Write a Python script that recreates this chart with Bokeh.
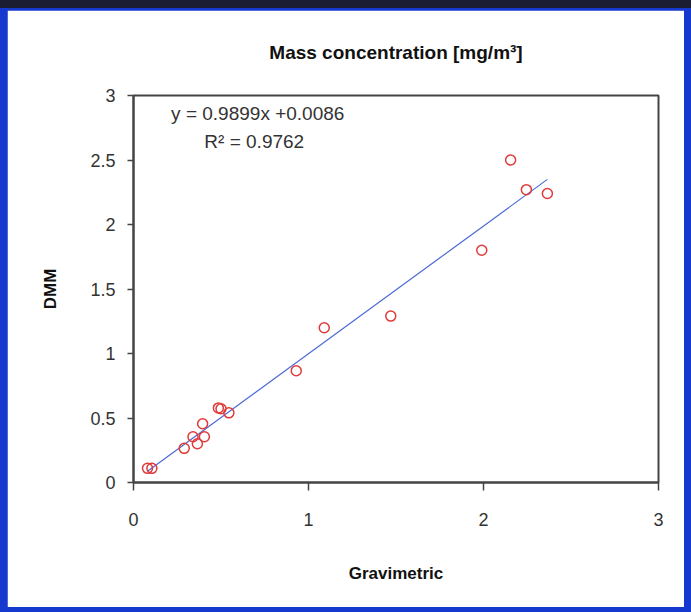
from bokeh.plotting import figure
from bokeh.models import Label, FixedTicker, CustomJSTickFormatter, ColumnDataSource
from bokeh.layouts import column
from bokeh.embed import file_html
from bokeh.resources import INLINE

# Data
gravimetric = [0.08, 0.105, 0.29, 0.34, 0.365, 0.395, 0.405, 0.485, 0.50, 0.545,
               0.93, 1.09, 1.47, 1.99, 2.155, 2.245, 2.365]
dmm = [0.11, 0.11, 0.265, 0.355, 0.30, 0.455, 0.355, 0.578, 0.572, 0.54,
       0.866, 1.20, 1.29, 1.80, 2.50, 2.27, 2.24]
slope = 0.9899
intercept = 0.0086
x_ticks = [0, 1, 2, 3]
y_ticks = [0, 0.5, 1, 1.5, 2, 2.5, 3]
title_text = "Mass concentration [mg/m³]"

FONT = "Liberation Sans"

p = figure(width=677, height=597, x_range=(0, 3), y_range=(0, 3),
           output_backend="svg", toolbar_location=None,
           min_border_left=126, min_border_right=26,
           min_border_top=85, min_border_bottom=125,
           title=title_text)
p.background_fill_color = "white"
p.border_fill_color = "white"
p.grid.visible = False
p.outline_line_color = "#444444"
p.outline_line_width = 2

p.title.text_font = FONT
p.title.text_font_size = "19px"
p.title.text_font_style = "bold"
p.title.text_color = "#111111"
p.title.align = "center"
p.title.vertical_align = "top"
p.title.standoff = 61
p.title.offset = 5

for ax in (p.xaxis[0], p.yaxis[0]):
    ax.axis_line_color = "#444444"
    ax.axis_line_width = 2
    ax.major_tick_line_color = "#444444"
    ax.major_tick_line_width = 1.5
    ax.major_tick_in = 0
    ax.minor_tick_line_color = None
    ax.major_label_text_font = FONT
    ax.major_label_text_font_size = "18px"
    ax.major_label_text_color = "#333333"
    ax.axis_label_text_font = FONT
    ax.axis_label_text_font_size = "17px"
    ax.axis_label_text_font_style = "bold"
    ax.axis_label_text_color = "#111111"
    ax.formatter = CustomJSTickFormatter(code="return tick.toString();")

p.xaxis[0].ticker = FixedTicker(ticks=x_ticks)
p.yaxis[0].ticker = FixedTicker(ticks=y_ticks)
p.xaxis[0].major_tick_out = 8
p.yaxis[0].major_tick_out = 6
p.xaxis[0].major_label_standoff = 22
p.yaxis[0].major_label_standoff = 12
p.xaxis[0].axis_label = "Gravimetric"
p.yaxis[0].axis_label = "DMM"
p.xaxis[0].axis_label_standoff = 35
p.yaxis[0].axis_label_standoff = 27

# Linear trendline over the data range
x0, x1 = min(gravimetric), max(gravimetric)
p.line([x0, x1], [slope * x0 + intercept, slope * x1 + intercept],
       line_color="#4a68d8", line_width=1.2)

src = ColumnDataSource(dict(x=gravimetric, y=dmm))
p.scatter("x", "y", source=src, size=10, marker="circle",
          fill_color=None, line_color="#e03a3a", line_width=1.5)

eq1 = Label(x=0.71, y=2.86, text="y = 0.9899x +0.0086", text_font=FONT,
            text_font_size="19px", text_color="#333333",
            text_align="center", text_baseline="middle")
eq2 = Label(x=0.69, y=2.645, text="R² = 0.9762", text_font=FONT,
            text_font_size="19px", text_color="#333333",
            text_align="center", text_baseline="middle")
p.add_layout(eq1)
p.add_layout(eq2)

layout = column(p, styles={"background-color": "#1538cf",
                           "border-top": "8px solid #1b1d33",
                           "padding": "2px 7px 5px 7px"})

open("out.html", "w").write(file_html(layout, INLINE))
